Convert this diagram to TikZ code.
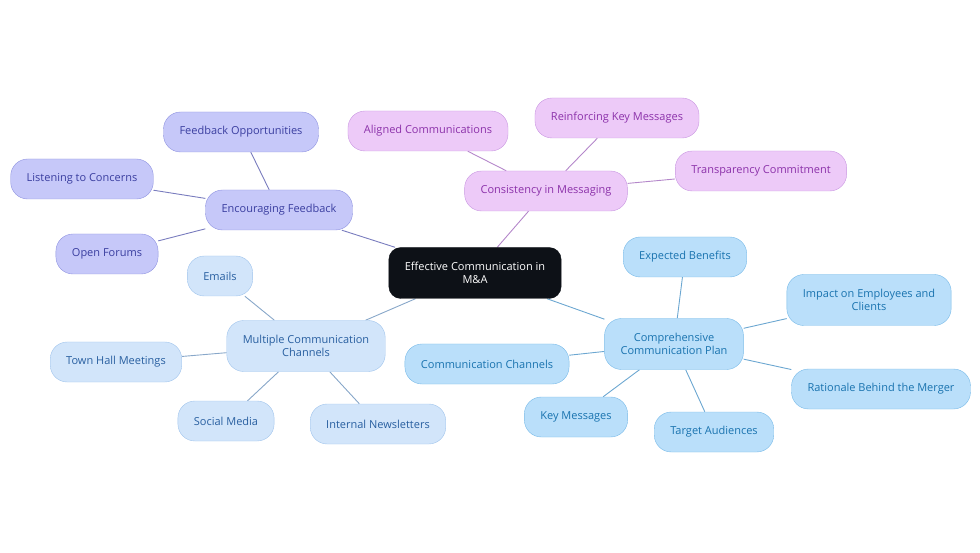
\documentclass[tikz,border=0pt]{standalone}
\usepackage{fontspec}
\setmainfont{Open Sans}
\usepackage{xcolor}
\usetikzlibrary{backgrounds}

\definecolor{rootfill}{RGB}{13,17,23}
\definecolor{fbfill}{RGB}{198,200,249}
\definecolor{fbdraw}{RGB}{142,146,224}
\definecolor{fbtext}{RGB}{58,62,160}
\definecolor{cmfill}{RGB}{237,202,248}
\definecolor{cmdraw}{RGB}{200,150,225}
\definecolor{cmtext}{RGB}{140,50,170}
\definecolor{mcfill}{RGB}{210,229,250}
\definecolor{mcdraw}{RGB}{160,196,236}
\definecolor{mctext}{RGB}{40,95,160}
\definecolor{cpfill}{RGB}{186,223,250}
\definecolor{cpdraw}{RGB}{120,186,232}
\definecolor{cptext}{RGB}{25,115,175}

\begin{document}
\begin{tikzpicture}[x=1pt,y=-1pt,
    bubble/.style={draw,rounded corners=17pt,minimum height=40pt,inner xsep=16pt,
                   font=\fontsize{11}{12.5}\selectfont,align=center},
    twoline/.style={minimum height=51pt},
    rootbox/.style={bubble,fill=rootfill,draw=rootfill,text=white,rounded corners=12pt,minimum height=51pt},
    fbbox/.style={bubble,fill=fbfill,draw=fbdraw,text=fbtext},
    cmbox/.style={bubble,fill=cmfill,draw=cmdraw,text=cmtext},
    mcbox/.style={bubble,fill=mcfill,draw=mcdraw,text=mctext},
    cpbox/.style={bubble,fill=cpfill,draw=cpdraw,text=cptext},
    fblink/.style={draw=fbdraw!85!black,line width=0.9pt},
    cmlink/.style={draw=cmdraw!90!black,line width=0.9pt},
    mclink/.style={draw=mcdraw!85!black,line width=0.9pt},
    cplink/.style={draw=cpdraw!90!black,line width=0.9pt}]
  \useasboundingbox (0,0) rectangle (980,553);

  % centre
  \node[rootbox] (ma) at (475,273) {Effective Communication in\\M\&A};

  % feedback branch
  \node[fbbox] (feedback) at (279,210) {Encouraging Feedback};
  \node[fbbox] (opport) at (241,132) {Feedback Opportunities};
  \node[fbbox] (listen) at (82,179) {Listening to Concerns};
  \node[fbbox] (forums) at (107,254) {Open Forums};

  % consistency branch
  \node[cmbox] (consist) at (546,191) {Consistency in Messaging};
  \node[cmbox] (aligned) at (428,131) {Aligned Communications};
  \node[cmbox] (reinforce) at (617,118) {Reinforcing Key Messages};
  \node[cmbox] (transp) at (761,171) {Transparency Commitment};

  % channels branch
  \node[mcbox,twoline] (multi) at (306,346) {Multiple Communication\\Channels};
  \node[mcbox] (emails) at (220,276) {Emails};
  \node[mcbox] (townhall) at (116,362) {Town Hall Meetings};
  \node[mcbox] (social) at (226,421) {Social Media};
  \node[mcbox] (newsletter) at (378,424) {Internal Newsletters};

  % plan branch
  \node[cpbox,twoline] (plan) at (674,344) {Comprehensive\\Communication Plan};
  \node[cpbox] (benefits) at (685,257) {Expected Benefits};
  \node[cpbox,twoline] (impact) at (869,300) {Impact on Employees and\\Clients};
  \node[cpbox] (rationale) at (881,389) {Rationale Behind the Merger};
  \node[cpbox] (channels) at (487,364) {Communication Channels};
  \node[cpbox] (keymsg) at (576,417) {Key Messages};
  \node[cpbox] (audience) at (714,432) {Target Audiences};

  \begin{scope}[on background layer]
    \draw[fblink] (ma) -- (feedback);
    \foreach \leaf in {opport,listen,forums}
      \draw[fblink] (feedback) -- (\leaf);
    \draw[cmlink] (ma) -- (consist);
    \foreach \leaf in {aligned,reinforce,transp}
      \draw[cmlink] (consist) -- (\leaf);
    \draw[mclink] (ma) -- (multi);
    \foreach \leaf in {emails,townhall,social,newsletter}
      \draw[mclink] (multi) -- (\leaf);
    \draw[cplink] (ma) -- (plan);
    \foreach \leaf in {benefits,impact,rationale,channels,keymsg,audience}
      \draw[cplink] (plan) -- (\leaf);
  \end{scope}
\end{tikzpicture}
\end{document}
